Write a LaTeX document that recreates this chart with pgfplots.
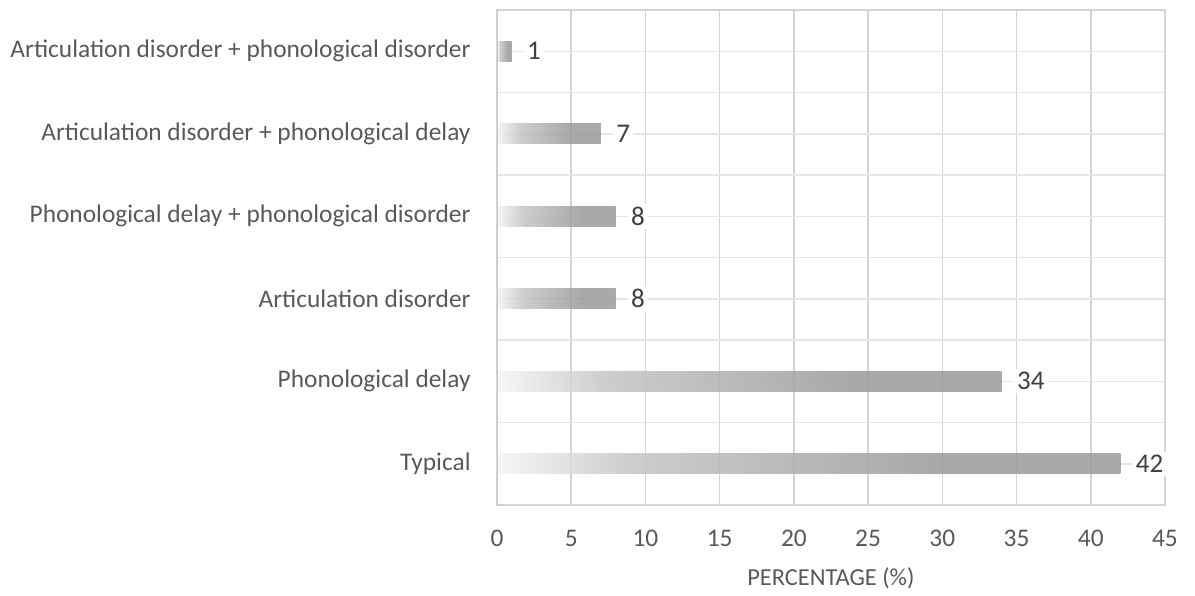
\documentclass[border=0pt]{standalone}
\usepackage{fontspec}
\setmainfont{Carlito}
\usepackage{pgfplots}
\pgfplotsset{compat=1.18}

\definecolor{ticktext}{HTML}{595959}
\definecolor{lbltext}{HTML}{404040}
\definecolor{gridv}{HTML}{D4D4D4}
\definecolor{gridh}{HTML}{E6E6E6}
\definecolor{frameL}{HTML}{C8C8C8}
\definecolor{shA}{HTML}{F5F5F5}
\definecolor{shB}{HTML}{C4C4C4}
\definecolor{shC}{HTML}{9A9A9A}
% path maps onto 25bp..75bp of the shading
\pgfdeclarehorizontalshading{barfade}{100bp}{color(0bp)=(shA); color(25bp)=(shA); color(36bp)=(shB); color(60bp)=(shC); color(100bp)=(shC)}

\pgfplotsset{onebar/.style={draw=none, shading=barfade, fill opacity=0.85, bar shift=0pt}}

\begin{document}
\begin{tikzpicture}
\begin{axis}[
  scale only axis, width=334pt, height=247.5pt,
  xbar, bar width=10pt,
  xmin=0, xmax=45, ymin=-0.5, ymax=5.5,
  xtick={0,5,...,45}, ytick={0,...,5},
  minor ytick={0.5,1.5,2.5,3.5,4.5},
  yticklabels={Typical, Phonological delay, Articulation disorder,
    Phonological delay + phonological disorder,
    Articulation disorder + phonological delay,
    Articulation disorder + phonological disorder},
  xmajorgrids, ymajorgrids, yminorgrids,
  x grid style={gridv, line width=0.75pt},
  y grid style={gridh, line width=0.75pt},
  minor grid style={gridh, line width=0.75pt},
  axis line style={gridv, line width=0.75pt},
  major tick length=0pt, minor tick length=0pt,
  tick label style={font=\fontsize{12.7}{15}\selectfont, text=ticktext},
  /pgf/number format/assume math mode=true,
  yticklabel style={anchor=east, inner xsep=0pt, xshift=-13pt},
  xticklabel style={anchor=center, yshift=-16.5pt},
  xlabel={PERCENTAGE (\%)},
  every axis x label/.style={at={(axis description cs:0.5,0)}, anchor=center,
    yshift=-36.5pt, font=\fontsize{12.2}{15}\selectfont, text=ticktext},
  nodes near coords, nodes near coords align={horizontal},
  every node near coord/.append style={fill=white, text=lbltext, inner sep=1.5pt,
    xshift=6pt, font=\fontsize{13.5}{16}\selectfont, fill opacity=1, text opacity=1},
]
\addplot[onebar] coordinates {(42,0)};
\addplot[onebar] coordinates {(34,1)};
\addplot[onebar] coordinates {(8,2)};
\addplot[onebar] coordinates {(8,3)};
\addplot[onebar] coordinates {(7,4)};
\addplot[onebar] coordinates {(1,5)};
\draw[frameL, line width=1.3pt] (axis cs:0,-0.5) -- (axis cs:0,5.5);
\end{axis}
\path (-248.5pt,-45pt) rectangle (349pt,252.5pt);
\end{tikzpicture}
\end{document}
